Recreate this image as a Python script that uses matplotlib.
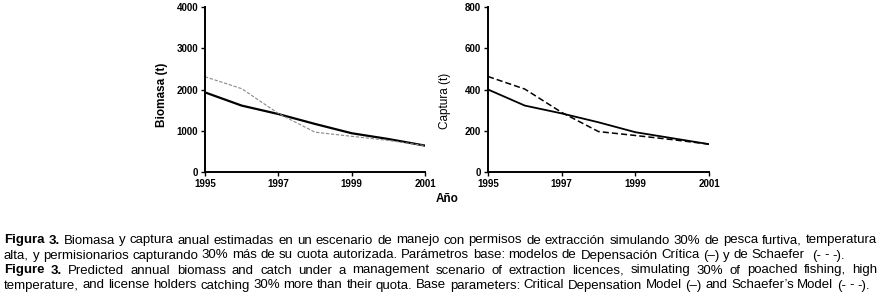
import matplotlib
matplotlib.use("Agg")
import matplotlib.pyplot as plt

# ---------------- data ----------------
years = [1995, 1996, 1997, 1998, 1999, 2000, 2001]
biomasa_depensacion = [1930, 1610, 1405, 1165, 940, 800, 640]
biomasa_schaefer = [2310, 2020, 1420, 965, 865, 765, 640]
captura_depensacion = [400, 322, 284, 241, 193, 164, 135]
captura_schaefer = [463, 402, 289, 196, 177, 157, 135]
xticks = [1995, 1997, 1999, 2001]
biomasa_ticks = [0, 1000, 2000, 3000, 4000]
captura_ticks = [0, 200, 400, 600, 800]

caption_lines = [
    ("Figura 3.", "Biomasa y captura anual estimadas en un escenario de manejo con permisos de extracción simulando 30% de pesca furtiva, temperatura", True),
    ("", "alta, y permisionarios capturando 30% más de su cuota autorizada. Parámetros base: modelos de Depensación Crítica (–) y de Schaefer  (- - -).", False),
    ("Figure 3.", "Predicted annual biomass and catch under a management scenario of extraction licences, simulating 30% of poached fishing, high", True),
    ("", "temperature, and license holders catching 30% more than their quota. Base parameters: Critical Depensation Model (–) and Schaefer’s Model (- - -).", False),
]

W, H = 882, 302
fig = plt.figure(figsize=(W / 100, H / 100), dpi=100)
tick_font = ["Liberation Sans Narrow", "Liberation Sans", "DejaVu Sans"]
cap_font = ["Liberation Sans", "DejaVu Sans"]


def px_axes(x0, x1, ytop, ybot):
    return fig.add_axes([x0 / W, 1 - ybot / H, (x1 - x0) / W, (ybot - ytop) / H])


def style(ax, ylim, yticks, ylabel, lab_y, lab_weight):
    ax.set_xlim(1995, 2001)
    ax.set_ylim(*ylim)
    ax.set_xticks(xticks)
    ax.set_yticks(yticks)
    for s in ["top", "right"]:
        ax.spines[s].set_visible(False)
    for s in ["left", "bottom"]:
        ax.spines[s].set_linewidth(1.4)
    ax.tick_params(direction="out", length=3, width=1, pad=2)
    for lab in ax.get_xticklabels() + ax.get_yticklabels():
        lab.set_family(tick_font)
        lab.set_fontsize(7)
        lab.set_fontweight("bold")
    ax.set_ylabel(ylabel, family=tick_font, fontsize=8.5, fontweight=lab_weight)
    ax.yaxis.set_label_coords(-0.168, lab_y)


ax1 = px_axes(205, 425, 7, 172)
ax1.plot(years, biomasa_depensacion, color="black", lw=1.6)
ax1.plot(years, biomasa_schaefer, color="#888888", lw=0.8, ls=(0, (3, 1.5)))
style(ax1, (0, 4000), biomasa_ticks, "Biomasa (t)", 0.47, "bold")

ax2 = px_axes(488, 709, 7, 172)
ax2.plot(years, captura_depensacion, color="black", lw=1.3)
ax2.plot(years, captura_schaefer, color="black", lw=1.1, ls=(0, (4, 2)))
style(ax2, (0, 800), captura_ticks, "Captura (t)", 0.43, "normal")

fig.text(447 / W, 1 - 199 / H, "Año", ha="center", va="center",
         family=tick_font, fontsize=8.5, fontweight="bold")

# ---------------- caption (justified) ----------------
renderer = fig.canvas.get_renderer()


def measure(s, weight, size):
    t = fig.text(0, 0, s, fontsize=size, fontweight=weight, family=cap_font)
    w = t.get_window_extent(renderer).width
    t.remove()
    return w


# fit size so that line 2 spans ~844 px
base = 10.0
words2 = caption_lines[1][1].split(" ")
sp = measure("a a", "normal", base) - measure("aa", "normal", base)
nat = sum(measure(w, "normal", base) for w in words2) + sp * (len(words2) - 1)
size = base * 844 / nat

x0, x1 = 4, 877
baselines = [243.5, 258.5, 273.5, 288.5]
space = measure("a a", "normal", size) - measure("aa", "normal", size)
for (bold, rest, just), yb in zip(caption_lines, baselines):
    items = []
    if bold:
        items += [(w, "bold") for w in bold.split(" ")]
    items += [(w, "normal") for w in rest.split(" ")]
    widths = [measure(w, wt, size) if w else 0 for w, wt in items]
    if just:
        gap = (x1 - x0 - sum(widths)) / (len(items) - 1)
    else:
        gap = space
    x = x0
    for (w, wt), wd in zip(items, widths):
        if w:
            fig.text(x / W, 1 - yb / H, w, fontsize=size, fontweight=wt,
                     family=cap_font, ha="left", va="baseline")
        x += wd + gap

fig.savefig("out.png", dpi=100)
